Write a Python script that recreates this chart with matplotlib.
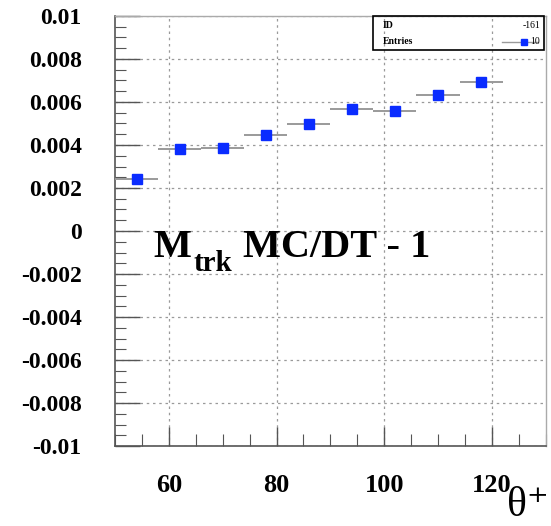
import matplotlib
matplotlib.use("Agg")
import matplotlib.pyplot as plt
import numpy as np

# Data
theta = [54, 62, 70, 78, 86, 94, 102, 110, 118]
values = [0.0024, 0.00383, 0.00387, 0.00447, 0.00498, 0.00566, 0.00560, 0.00633, 0.00694]
bin_half_width = [4] * 9
x_ticks = [60, 80, 100, 120]
y_ticks = [-0.01, -0.008, -0.006, -0.004, -0.002, 0, 0.002, 0.004, 0.006, 0.008, 0.01]
y_tick_labels = ["-0.01", "-0.008", "-0.006", "-0.004", "-0.002", "0",
                 "0.002", "0.004", "0.006", "0.008", "0.01"]

serif = ["Liberation Serif", "DejaVu Serif"]

fig = plt.figure(figsize=(5.51, 5.26), dpi=100)
ax = fig.add_axes([115/551, 1-446/526, (545.7-115)/551, (446-16)/526])

ax.set_xlim(50, 130)
ax.set_ylim(-0.01, 0.01)

# grid
gridkw = dict(color="#9a9a9a", lw=0.9, linestyle=(0, (2, 3)))
for xt in x_ticks:
    ax.axvline(xt, **gridkw, zorder=0)
for yt in y_ticks:
    ax.axhline(yt, **gridkw, zorder=0)

ax.errorbar(theta, values, xerr=bin_half_width, fmt="s", color="#0a2cff",
            ecolor="#9a9a9a", elinewidth=1.4, markersize=6.5, capsize=0, zorder=3)

ax.set_xticks(x_ticks)
ax.set_xticks(np.arange(50, 131, 5), minor=True)
ax.set_yticks(y_ticks)
ax.set_yticklabels(y_tick_labels)
ax.set_yticks(np.arange(-0.01, 0.01001, 0.0005), minor=True)

ax.tick_params(axis="both", which="both", direction="in", top=False, right=False, colors="#555555")
ax.tick_params(axis="y", which="major", length=18, width=1, pad=24)
ax.tick_params(axis="y", which="minor", length=8, width=0.8)
ax.tick_params(axis="x", which="major", length=14, width=1, pad=20)
ax.tick_params(axis="x", which="minor", length=9, width=0.8)

for lab in ax.get_xticklabels():
    lab.set_fontfamily(serif)
    lab.set_fontweight("bold")
    lab.set_fontsize(19)
    lab.set_color("black")
for lab in ax.get_yticklabels():
    lab.set_fontfamily(serif)
    lab.set_fontweight("bold")
    lab.set_fontsize(17)
    lab.set_color("black")

for s in ["left", "bottom"]:
    ax.spines[s].set_color("#555555")
    ax.spines[s].set_linewidth(1.2)
for s in ["top", "right"]:
    ax.spines[s].set_color("#aaaaaa")
    ax.spines[s].set_linewidth(1.0)

# Title text inside plot: M_trk MC/DT - 1
fig.text(153/551, 1-257/526, "M", fontfamily=serif, fontweight="bold", fontsize=29,
         ha="left", va="baseline")
fig.text(194/551, 1-271/526, "trk", fontfamily=serif, fontweight="bold", fontsize=21,
         ha="left", va="baseline")
fig.text(243/551, 1-257/526, "MC/DT - 1", fontfamily=serif, fontweight="bold", fontsize=29,
         ha="left", va="baseline")

# x-axis label
fig.text(549/551, 1-516/526, "θ⁺", fontfamily=serif, fontsize=30,
         ha="right", va="baseline")

# Stats box
bx0, by0, bx1, by1 = 373/551, 1-50/526, 544/551, 1-16/526
rect = plt.Rectangle((bx0, by0), bx1-bx0, by1-by0, transform=fig.transFigure,
                     fill=False, edgecolor="black", lw=1.2, zorder=5)
fig.patches.append(rect)
fig.text(383/551, 1-25/526, "ID", fontfamily=serif, fontsize=7, fontweight="bold", va="center", ha="left")
fig.text(383/551, 1-42/526, "Entries", fontfamily=serif, fontsize=7, fontweight="bold", va="center", ha="left")
fig.text(540/551, 1-25/526, "-161", fontfamily=serif, fontsize=7, va="center", ha="right")
fig.text(540/551, 1-42/526, "10", fontfamily=serif, fontsize=7, va="center", ha="right")
fig.lines.append(plt.Line2D([502/551, 538/551], [1-42/526, 1-42/526], transform=fig.transFigure,
                            color="#9a9a9a", lw=1))
fig.lines.append(plt.Line2D([524/551], [1-42/526], transform=fig.transFigure, marker="s",
                            color="#0a2cff", markersize=5))

fig.savefig("out.png", dpi=100)
